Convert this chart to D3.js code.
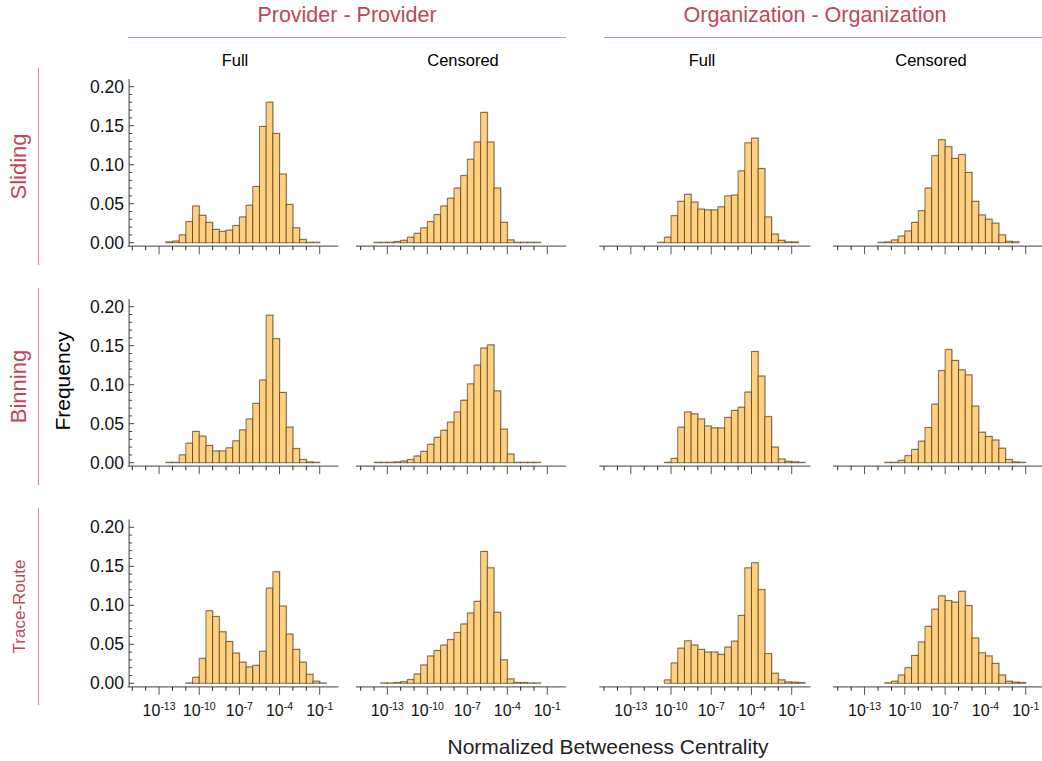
<!DOCTYPE html>
<html><head><meta charset="utf-8">
<script src="https://cdn.jsdelivr.net/npm/d3@7"></script>
<style>
body{margin:0;background:#fff}
svg{display:block}
text{font-family:"Liberation Sans",Arial,Helvetica,sans-serif}
</style>
</head><body>
<svg id="chart" width="1042" height="761"></svg>
<script>
// ---------------- data ----------------
const groups = ["Provider - Provider", "Organization - Organization"];
const variants = ["Full", "Censored"];
const methods = ["Sliding", "Binning", "Trace-Route"];
const yTickValues = [0, 0.05, 0.10, 0.15, 0.20];
const yTickLabels = ["0.00", "0.05", "0.10", "0.15", "0.20"];
const xMajorExps = [-13, -10, -7, -4, -1];
const xMinorExps = [-15, -14, -12, -11, -9, -8, -6, -5, -3, -2];
const binWidthDecades = 0.5;

// log10 of the lower edge of the first bin, per panel
const slidingStarts = [-12.5, -14, -11, -12];
const binningStarts = [-12.5, -14, -10.5, -11.5];
const traceStarts   = [-11, -13.5, -10.5, -11.5];

const slidingPPFull = [0.001,0.002,0.010,0.027,0.047,0.035,0.026,0.017,0.0145,0.016,0.022,0.033,0.048,0.072,0.149,0.180,0.140,0.088,0.049,0.019,0.004,0.0005,0.0005];
const slidingPPCens = [0.0005,0.0005,0.0005,0.0015,0.003,0.007,0.012,0.019,0.027,0.036,0.047,0.057,0.070,0.086,0.107,0.129,0.167,0.129,0.070,0.026,0.0035,0.0005,0.0005,0.0005,0.0005];
const slidingOOFull = [0.0005,0.007,0.0346,0.053,0.062,0.052,0.043,0.042,0.042,0.046,0.060,0.061,0.092,0.128,0.134,0.095,0.033,0.011,0.003,0.001,0.001];
const slidingOOCens = [0.0005,0.001,0.0035,0.0085,0.015,0.026,0.041,0.070,0.1115,0.132,0.123,0.108,0.113,0.090,0.053,0.0355,0.030,0.025,0.010,0.0017,0.001];

const binningPPFull = [0.0005,0.0005,0.010,0.025,0.040,0.034,0.022,0.015,0.015,0.019,0.028,0.042,0.056,0.076,0.106,0.189,0.159,0.090,0.0455,0.018,0.004,0.001,0.0005];
const binningPPCens = [0.0005,0.0005,0.0005,0.001,0.002,0.004,0.0085,0.0145,0.0235,0.0325,0.0415,0.052,0.065,0.080,0.101,0.125,0.147,0.151,0.092,0.043,0.011,0.0005,0.0005,0.0005,0.0005];
const binningOOFull = [0.0005,0.0055,0.0455,0.065,0.0625,0.056,0.047,0.0445,0.0445,0.058,0.067,0.071,0.0905,0.1425,0.111,0.059,0.020,0.0047,0.0017,0.001,0.0005];
const binningOOCens = [0.0005,0.0005,0.003,0.009,0.017,0.0275,0.045,0.075,0.118,0.145,0.131,0.119,0.1125,0.0725,0.039,0.0335,0.029,0.0185,0.004,0.001,0.0005];

const tracePPFull = [0.0005,0.0077,0.032,0.093,0.0855,0.066,0.0535,0.0387,0.027,0.021,0.023,0.041,0.122,0.143,0.099,0.063,0.0434,0.027,0.0115,0.0026,0.0005];
const tracePPCens = [0.0005,0.0005,0.001,0.002,0.0047,0.012,0.0234,0.035,0.042,0.049,0.056,0.065,0.076,0.090,0.105,0.169,0.148,0.091,0.030,0.0055,0.001,0.001,0.0005,0.0005];
const traceOOFull = [0.0043,0.026,0.045,0.0545,0.049,0.0434,0.040,0.040,0.037,0.0464,0.054,0.087,0.148,0.1545,0.120,0.038,0.0128,0.0043,0.0017,0.0013,0.0009];
const traceOOCens = [0.0007,0.0026,0.0106,0.020,0.0357,0.053,0.073,0.095,0.112,0.106,0.104,0.118,0.0996,0.058,0.039,0.035,0.0255,0.0106,0.0026,0.0013,0.0009];

const panelValues = [
  [slidingPPFull, slidingPPCens, slidingOOFull, slidingOOCens],
  [binningPPFull, binningPPCens, binningOOFull, binningOOCens],
  [tracePPFull, tracePPCens, traceOOFull, traceOOCens]
];
const panelStarts = [slidingStarts, binningStarts, traceStarts];

// ---------------- layout ----------------
const svg = d3.select("#chart");
const colTickRanges = [[132.3, 319.7], [360.7, 547.3], [604, 791.7], [837.7, 1025.7]];
const rowBase = [242.7, 462.7, 683.3];
const yHeight = 156;
const red = "#c0475a";
const ruleColor = "#dc8d98";

const xScales = colTickRanges.map(r => d3.scaleLog().domain([1e-15, 1e-1]).range(r));
const yScales = rowBase.map(b => d3.scaleLinear().domain([0, 0.2]).range([b, b - yHeight]));

// headers
const groupSpans = [[128, 566], [604, 1042]];
const groupCenters = [347, 815];
groups.forEach((g, i) => {
  const [a, b] = groupSpans[i];
  svg.append("text").attr("x", groupCenters[i]).attr("y", 22).attr("text-anchor", "middle")
    .attr("font-size", 21.5).attr("fill", red).text(g);
  svg.append("line").attr("x1", a).attr("x2", b).attr("y1", 37.5).attr("y2", 37.5)
    .attr("stroke", ruleColor).attr("stroke-width", 1.2);
});
const subCenters = [235, 463, 702, 931];
subCenters.forEach((cx, c) => {
  svg.append("text").attr("x", cx).attr("y", 66).attr("text-anchor", "middle")
    .attr("font-size", 16.5).attr("fill", "#000").text(variants[c % 2]);
});

// row labels
const rowSpans = [[68, 265], [288, 485], [508, 705]];
methods.forEach((m, r) => {
  const [a, b] = rowSpans[r];
  const cy = (a + b) / 2;
  const tr = m === "Trace-Route";
  svg.append("text").attr("transform", `translate(${tr ? 24.5 : 26},${cy}) rotate(-90)`)
    .attr("text-anchor", "middle").attr("font-size", tr ? 17 : 22).attr("fill", red).text(m);
  svg.append("line").attr("x1", 38.5).attr("x2", 38.5).attr("y1", a).attr("y2", b)
    .attr("stroke", ruleColor).attr("stroke-width", 1.2);
});

svg.append("text").attr("transform", "translate(70,381) rotate(-90)").attr("text-anchor", "middle")
  .attr("font-size", 21).attr("fill", "#000").text("Frequency");
svg.append("text").attr("x", 608).attr("y", 754).attr("text-anchor", "middle")
  .attr("font-size", 21).attr("fill", "#222").text("Normalized Betweeness Centrality");

// panels
methods.forEach((m, r) => {
  const y = yScales[r];
  for (let c = 0; c < 4; c++) {
    const x = xScales[c];
    const g = svg.append("g");
    const start = panelStarts[r][c];
    const vals = panelValues[r][c];
    const bins = vals.map((v, i) => ({
      x0: Math.pow(10, start + i * binWidthDecades),
      x1: Math.pow(10, start + (i + 1) * binWidthDecades),
      v
    }));
    g.selectAll("rect.sh").data(bins).join("rect").attr("class", "sh")
      .attr("x", d => x(d.x0) + 1).attr("y", d => y(d.v) - 1)
      .attr("width", d => x(d.x1) - x(d.x0)).attr("height", d => y(0) - y(d.v))
      .attr("fill", "#d4d4d4");
    g.selectAll("rect.bar").data(bins).join("rect").attr("class", "bar")
      .attr("x", d => x(d.x0)).attr("y", d => y(d.v))
      .attr("width", d => x(d.x1) - x(d.x0)).attr("height", d => y(0) - y(d.v))
      .attr("fill", "#ffd07f").attr("stroke", "rgba(60,38,0,0.62)").attr("stroke-width", 1);

    const axisY = y(0) + 3.5;
    const xa = Math.pow(10, -15.35), xb = Math.pow(10, 0.4);
    g.append("line").attr("x1", x(xa)).attr("x2", x(xb)).attr("y1", axisY).attr("y2", axisY)
      .attr("stroke", "#666").attr("stroke-width", 1.3);
    g.selectAll("line.xmin").data(xMinorExps).join("line").attr("class", "xmin")
      .attr("x1", d => x(Math.pow(10, d))).attr("x2", d => x(Math.pow(10, d)))
      .attr("y1", axisY).attr("y2", axisY + 4).attr("stroke", "#222").attr("stroke-width", 1);
    g.selectAll("line.xmaj").data(xMajorExps).join("line").attr("class", "xmaj")
      .attr("x1", d => x(Math.pow(10, d))).attr("x2", d => x(Math.pow(10, d)))
      .attr("y1", axisY).attr("y2", axisY + 8).attr("stroke", "#555").attr("stroke-width", 1);
    if (r === 2) {
      const lab = g.selectAll("text.xl").data(xMajorExps).join("text").attr("class", "xl")
        .attr("x", d => x(Math.pow(10, d))).attr("y", 716).attr("text-anchor", "middle")
        .attr("font-size", 16).attr("fill", "#111");
      lab.append("tspan").text("10");
      lab.append("tspan").attr("dy", -6).attr("font-size", 10.5).text(d => String(d));
    }

    if (c === 0) {
      const ax = x(xa) + 1.5;
      g.append("line").attr("x1", ax).attr("x2", ax).attr("y1", y(0.21)).attr("y2", axisY + 0.5)
        .attr("stroke", "#666").attr("stroke-width", 1.3);
      const minor = d3.range(0, 21).map(i => i / 100).filter(v => Math.round(v * 100) % 5 !== 0);
      g.selectAll("line.ymin").data(minor).join("line").attr("class", "ymin")
        .attr("x1", ax).attr("x2", ax + 3).attr("y1", d => y(d)).attr("y2", d => y(d))
        .attr("stroke", "#444").attr("stroke-width", 1);
      g.selectAll("line.ymaj").data(yTickValues).join("line").attr("class", "ymaj")
        .attr("x1", ax).attr("x2", ax + 5).attr("y1", d => y(d)).attr("y2", d => y(d))
        .attr("stroke", "#444").attr("stroke-width", 1);
      g.selectAll("text.yl").data(yTickValues).join("text").attr("class", "yl")
        .attr("x", 124).attr("y", d => y(d) + 6).attr("text-anchor", "end")
        .attr("font-size", 17.5).attr("fill", "#111").text((d, i) => yTickLabels[i]);
    }
  }
});
</script>
</body></html>
